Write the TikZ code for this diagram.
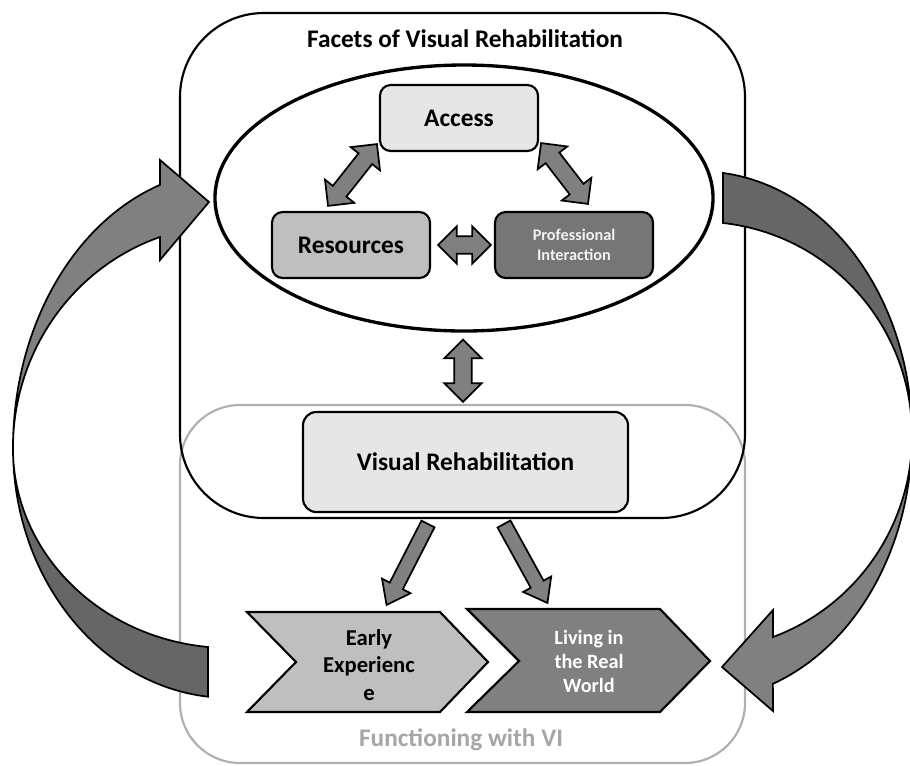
\documentclass[tikz,border=0pt]{standalone}
\usepackage{fontspec}
\setmainfont{Carlito}
\usepackage{xcolor}
\usetikzlibrary{calc,shapes.geometric}

\definecolor{lightfill}{HTML}{E6E6E6}
\definecolor{midfill}{HTML}{BFBFBF}
\definecolor{darkfill}{HTML}{767676}
\definecolor{arrowfill}{HTML}{808080}
\definecolor{ribbonshade}{HTML}{666666}
\definecolor{framegray}{HTML}{AFAFAF}
\definecolor{textgray}{HTML}{A6A6A6}

\tikzset{
  bigfont/.style={font=\fontsize{19}{22.5}\selectfont\bfseries},
  box/.style={draw, line width=1.6pt, rounded corners=8pt, minimum width=118.5pt,
    minimum height=49.5pt, inner sep=2pt, align=center, bigfont},
  ring/.style={ellipse, draw, line width=2.5pt, minimum width=373.5pt,
    minimum height=199.5pt, inner sep=0pt},
  blackframe/.style={draw, line width=1.6pt, rounded corners=63pt},
  grayframe/.style={draw=framegray, line width=1.6pt, rounded corners=45pt},
  blockarrow/.style={draw, fill=arrowfill, line width=1.3pt, line join=miter},
  ribbonlight/.style={draw, fill=arrowfill, line width=1.3pt},
  ribbondark/.style={draw, fill=ribbonshade, line width=1.3pt},
  chevron/.style={draw, line width=1.6pt, line join=miter},
}

% fat double arrow between two named points
\newcommand{\dblarrow}[2]{%
  \draw[blockarrow] let \p1=($(#2)-(#1)$), \n1={atan2(\y1,\x1)}, \n2={veclen(\x1,\y1)} in
    [shift={(#1)}, rotate=\n1]
    (0pt,0pt) -- (14pt,14pt) -- (14pt,6.5pt) -- (\n2-14pt,6.5pt) -- (\n2-14pt,14pt)
    -- (\n2,0pt) -- (\n2-14pt,-14pt) -- (\n2-14pt,-6.5pt) -- (14pt,-6.5pt)
    -- (14pt,-14pt) -- cycle;}
% fat single arrow
\newcommand{\sglarrow}[2]{%
  \draw[blockarrow] let \p1=($(#2)-(#1)$), \n1={atan2(\y1,\x1)}, \n2={veclen(\x1,\y1)} in
    [shift={(#1)}, rotate=\n1]
    (0pt,5.5pt) -- (\n2-16pt,5.5pt) -- (\n2-16pt,12pt) -- (\n2,0pt) -- (\n2-16pt,-12pt)
    -- (\n2-16pt,-5.5pt) -- (0pt,-5.5pt) -- cycle;}

\begin{document}
\begin{tikzpicture}[x=0.75pt,y=-0.75pt]
        \useasboundingbox (0,0) rectangle (910,765);
        % Functioning frame (gray)
        \draw[grayframe] (180,405) rectangle (745,763);
        \node[bigfont, text=textgray] (functioning) at (461,740) {Functioning with VI};
        % Facets frame (black)
        \draw[blackframe] (180,13) rectangle (745,518);
        \node[bigfont] (facetstitle) at (465,39) {Facets of Visual Rehabilitation};
        \node[ring] (facets) at (464,198) {};
        % Facets
        \node[box, fill=lightfill] (access) at (459,118) {Access};
        \node[box, fill=midfill] (resources) at (351,245) {Resources};
        \node[box, fill=darkfill, text=white!95!black,
          font=\fontsize{12.2}{14.5}\selectfont\bfseries] (prof) at (574,245) {Professional\\Interaction};
        \node[box, fill=lightfill, minimum width=243.75pt, minimum height=75pt,
          rounded corners=10pt] (visrehab) at (465.5,462) {Visual Rehabilitation};
        % Arrows between facets
        \coordinate (a1) at ($(access.south west)+(-2,-8)$);
        \coordinate (r1) at ($(resources.north)+(-23,-5)$);
        \coordinate (a2) at ($(access.south east)+(2,-9)$);
        \coordinate (p1) at ($(prof.north)+(14,-7)$);
        \coordinate (r2) at ($(resources.east)+(7,0)$);
        \coordinate (p2) at ($(prof.west)+(-3,0)$);
        \coordinate (f1) at ($(facets.south)+(-1,7)$);
        \coordinate (v1) at ($(visrehab.north)+(-2.5,-9)$);
        \dblarrow{a1}{r1}
        \dblarrow{a2}{p1}
        \dblarrow{r2}{p2}
        \dblarrow{f1}{v1}
        % Functioning with VI
        \draw[chevron, fill=midfill] (247,612) -- (440,612) -- (488,662) -- (440,712)
          -- (247,712) -- (296,662) -- cycle;
        \draw[chevron, fill=arrowfill] (467,609) -- (660,609) -- (710,661) -- (660,712)
          -- (467,712) -- (519,661) -- cycle;
        \node[align=center, font=\fontsize{17}{20.6}\selectfont\bfseries] (early) at (369,665)
          {Early\\Experienc\\e};
        \node[align=center, text=white, font=\fontsize{15.2}{18}\selectfont\bfseries] (living)
          at (589,661) {Living in\\the Real\\World};
        \coordinate (v2) at (428,524);
        \coordinate (e1) at (386.5,605);
        \coordinate (v3) at (504,524);
        \coordinate (l1) at (547.5,603);
        \sglarrow{v2}{e1}
        \sglarrow{v3}{l1}
        % Feedback ribbons
        \draw[ribbondark] (13,448) arc[start angle=180, end angle=95.8, x radius=217, y radius=250]
          -- (208,647) arc[start angle=95.8, end angle=180, x radius=217, y radius=200] -- cycle;
        \draw[ribbonlight] (13,448) arc[start angle=180, end angle=251.2, x radius=217, y radius=278]
          -- (160,160) -- (209,202) -- (160,260) -- (160,237)
          arc[start angle=251.2, end angle=180, x radius=217, y radius=223] -- cycle;
        \draw[ribbondark] (912,435) arc[start angle=0, end angle=-83.77, x radius=212, y radius=263.6]
          -- (723,223) arc[start angle=-83.77, end angle=0, x radius=212, y radius=213.3] -- cycle;
        \draw[ribbonlight] (912,435) arc[start angle=0, end angle=69.9, x radius=212, y radius=265]
          -- (773,711) -- (722,667) -- (773,610) -- (773,637)
          arc[start angle=69.9, end angle=0, x radius=212, y radius=215] -- cycle;
\end{tikzpicture}
\end{document}
